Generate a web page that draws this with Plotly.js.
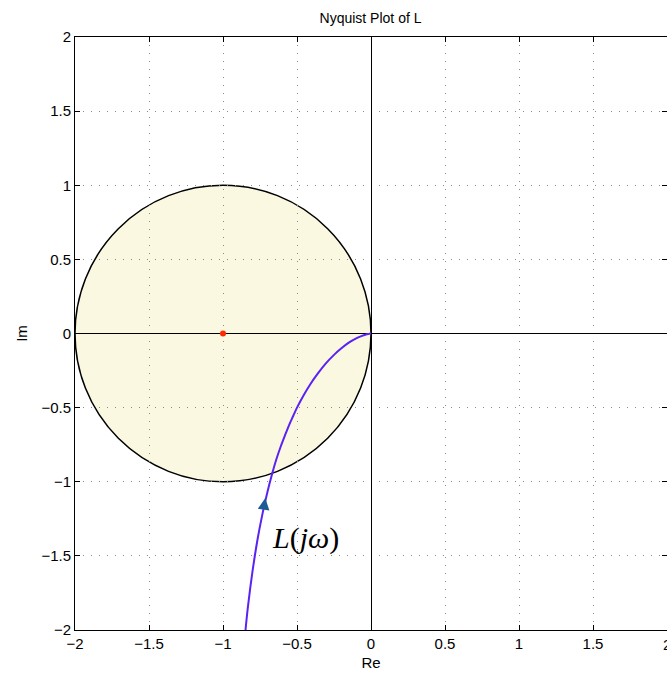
<!DOCTYPE html>
<html><head><meta charset="utf-8">
<script src="https://cdn.plot.ly/plotly-3.0.1.min.js"></script>
<style>html,body{margin:0;padding:0;background:#fff}#plot{width:667px;height:675px}</style>
</head><body><div id="plot"></div>
<script>
// Nyquist curve L(jω)
var curveRe = [-0.848, -0.832, -0.800, -0.768, -0.735, -0.703, -0.667, -0.640, -0.610, -0.580, -0.552, -0.525, -0.500, -0.455, -0.410, -0.360, -0.308, -0.250, -0.200, -0.150, -0.100, -0.065, -0.038, -0.020, -0.010, 0.000];
var curveIm = [-2.000, -1.848, -1.600, -1.396, -1.225, -1.082, -0.943, -0.850, -0.762, -0.684, -0.614, -0.555, -0.500, -0.416, -0.342, -0.271, -0.205, -0.144, -0.100, -0.062, -0.033, -0.018, -0.008, -0.003, -0.001, 0.000];
var critRe = [-1];
var critIm = [0];
var tickVals = [-2, -1.5, -1, -0.5, 0, 0.5, 1, 1.5, 2];
var tickText = ['−2', '−1.5', '−1', '−0.5', '0', '0.5', '1', '1.5', '2'];
var labelText = '<i>L</i>(<i>jω</i>)';

var font = {family: 'Liberation Sans, Arial, sans-serif', color: '#000', size: 15};
var axisBase = {
  range: [-2, 2], tickvals: tickVals, ticktext: tickText,
  showline: true, linecolor: '#000', linewidth: 1, mirror: 'ticks',
  ticks: 'inside', ticklen: 5, tickcolor: '#000',
  showgrid: true, gridcolor: '#8a8a8a', griddash: '1px,7px', gridwidth: 1,
  zeroline: true, zerolinecolor: '#000', zerolinewidth: 1,
  tickfont: font, fixedrange: true
};

var data = [
  {x: curveRe, y: curveIm, mode: 'lines', line: {color: '#5a22f5', width: 2, shape: 'spline', smoothing: 0.8}, hoverinfo: 'skip', showlegend: false},
  {x: critRe, y: critIm, mode: 'markers', marker: {color: '#ff2a00', size: 6}, hoverinfo: 'skip', showlegend: false}
];

var layout = {
  width: 667, height: 675,
  margin: {l: 75, r: 0, t: 37, b: 45},
  paper_bgcolor: '#fff', plot_bgcolor: '#fff',
  title: {text: 'Nyquist Plot of L', x: 0.5555, xanchor: 'center', y: 0.973, yanchor: 'middle', font: {family: font.family, size: 14, color: '#000'}},
  xaxis: Object.assign({}, axisBase, {title: {text: 'Re', font: font, standoff: 6}}),
  yaxis: Object.assign({}, axisBase, {title: {text: 'Im', font: font, standoff: 10}}),
  shapes: [{type: 'circle', xref: 'x', yref: 'y', x0: -2, x1: 0, y0: -1, y1: 1,
    fillcolor: '#fbf8e1', line: {color: '#000', width: 1.5}, layer: 'below'}],
  annotations: [
    {x: -0.714, y: -1.11, ax: -0.726, ay: -1.19, xref: 'x', yref: 'y', axref: 'x', ayref: 'y',
     text: '', showarrow: true, arrowhead: 2, arrowsize: 1.3, arrowwidth: 1.8, arrowcolor: '#1d5b96'},
    {x: -0.44, y: -1.378, xref: 'x', yref: 'y', text: labelText, showarrow: false,
     font: {family: 'Liberation Serif, DejaVu Serif, serif', size: 30, color: '#000'}},
    {x: 2, y: 0, xref: 'x', yref: 'paper', yanchor: 'top', yshift: -4, text: tickText[8], showarrow: false, font: font}
  ]
};
Plotly.newPlot('plot', data, layout, {displayModeBar: false, staticPlot: true});
</script></body></html>
